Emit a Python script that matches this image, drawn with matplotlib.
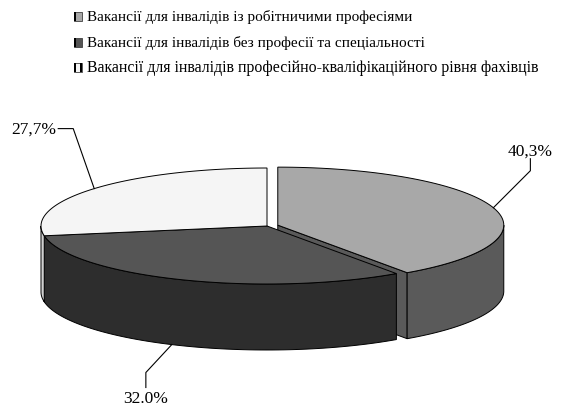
import numpy as np
import matplotlib
matplotlib.use("Agg")
import matplotlib.pyplot as plt
from matplotlib.patches import Polygon, Rectangle

# Data
categories = [
    "Вакансії для інвалідів із робітничими професіями",
    "Вакансії для інвалідів без професії та спеціальності",
    "Вакансії для інвалідів професійно-кваліфікаційного рівня фахівців",
]
values = [40.3, 32.0, 27.7]
value_labels = ["40,3%", "32.0%", "27,7%"]

top_colors = ["#a8a8a8", "#555555", "#f5f5f5"]
side_colors = ["#5a5a5a", "#2d2d2d", "#d0d0d0"]
explode = [0.05, 0.0, 0.0]

# pie geometry in pixels
cx, cy = 267.0, 227.0
ra, rb = 226.0, 58.0
depth = 66.0


def proj(theta, r, z, off):
    x = cx + ra * r * np.cos(theta) + off[0]
    y = cy - rb * r * np.sin(theta) + depth * z + off[1]
    return x, y


def arc(t0, t1, z, off, n=80):
    ts = np.linspace(t0, t1, n)
    return [proj(t, 1.0, z, off) for t in ts]


def main():
    plt.rcParams["font.family"] = ["Liberation Serif", "DejaVu Serif"]
    fig = plt.figure(figsize=(5.65, 4.10), dpi=100)
    ax = fig.add_axes([0, 0, 1, 1])
    ax.set_xlim(0, 565)
    ax.set_ylim(410, 0)
    ax.axis("off")

    total = sum(values)
    # slices go clockwise from 12 o'clock
    slices = []
    start = np.pi / 2
    for i, v in enumerate(values):
        sweep = 2 * np.pi * v / total
        t_end = start
        t_start = start - sweep
        mid = (t_start + t_end) / 2
        off = (ra * explode[i] * np.cos(mid), -rb * explode[i] * np.sin(mid))
        slices.append((t_start, t_end, mid, off))
        start = t_start

    ec = "black"
    lw = 0.7

    # cut faces (visible only when facing the viewer)
    for i, (t0, t1, mid, off) in enumerate(slices):
        for t, sgn in ((t0, -1), (t1, 1)):
            normal = t + sgn * np.pi / 2
            if np.sin(normal) < 0:
                pts = [proj(t, 0, 0, off), proj(t, 1, 0, off),
                       proj(t, 1, 1, off), proj(t, 0, 1, off)]
                ax.add_patch(Polygon(pts, closed=True, facecolor=side_colors[i],
                                     edgecolor=ec, linewidth=lw, zorder=1))

    # outer sides, front half only
    for i, (t0, t1, mid, off) in enumerate(slices):
        a0, a1 = t0, t1
        while a1 > np.pi:
            a0 -= 2 * np.pi
            a1 -= 2 * np.pi
        segs = [(max(a0, -np.pi), min(a1, 0))]
        if a0 < -np.pi:
            segs.append((max(a0 + 2 * np.pi, -np.pi), min(a1 + 2 * np.pi, 0)))
        for s0, s1 in segs:
            if s1 <= s0:
                continue
            pts = arc(s0, s1, 0, off) + arc(s1, s0, 1, off)
            ax.add_patch(Polygon(pts, closed=True, facecolor=side_colors[i],
                                 edgecolor=ec, linewidth=lw, zorder=2))

    # tops
    for i, (t0, t1, mid, off) in enumerate(slices):
        pts = [proj(0, 0, 0, off)] + arc(t0, t1, 0, off)
        ax.add_patch(Polygon(pts, closed=True, facecolor=top_colors[i],
                             edgecolor=ec, linewidth=lw, zorder=3))

    # data labels with leader lines
    fs = 12.5
    t0, t1, mid, off = slices[0]
    x, y = proj(mid, 1, 0, off)
    ax.plot([x, x + 37, x + 37], [y, y - 37, y - 49], color="black", lw=0.8, zorder=4)
    ax.text(x + 37, y - 57, value_labels[0], fontsize=fs, ha="center", va="center")

    t0, t1, mid, off = slices[1]
    x, y = proj(mid, 1, 1, off)
    x -= 8
    ax.plot([x, x - 26, x - 26], [y - 1, y + 27, y + 42], color="black", lw=0.8, zorder=4)
    ax.text(x - 26, y + 52, value_labels[1], fontsize=fs, ha="center", va="center")

    t0, t1, mid, off = slices[2]
    x, y = proj(mid, 1, 0, off)
    ax.plot([x, x - 21, x - 36], [y, y - 60, y - 60], color="black", lw=0.8, zorder=4)
    ax.text(x - 38, y - 60, value_labels[2], fontsize=fs, ha="right", va="center")

    # legend
    rows_y = [17, 43, 68]
    row_fs = [11, 11, 11.4]
    for i, lab in enumerate(categories):
        yy = rows_y[i]
        ax.add_patch(Rectangle((74, yy - 4.5), 8, 9, facecolor=top_colors[i],
                               edgecolor="#404040", linewidth=0.6))
        ax.add_patch(Rectangle((74, yy - 4.5), 2, 9, facecolor="black",
                               edgecolor="none"))
        if i == 2:
            ax.add_patch(Rectangle((80, yy - 4.5), 2, 9, facecolor="black",
                                   edgecolor="none"))
        ax.text(87, yy, lab, fontsize=row_fs[i], ha="left", va="center")

    fig.savefig("out.png", dpi=100)


if __name__ == "__main__":
    main()
